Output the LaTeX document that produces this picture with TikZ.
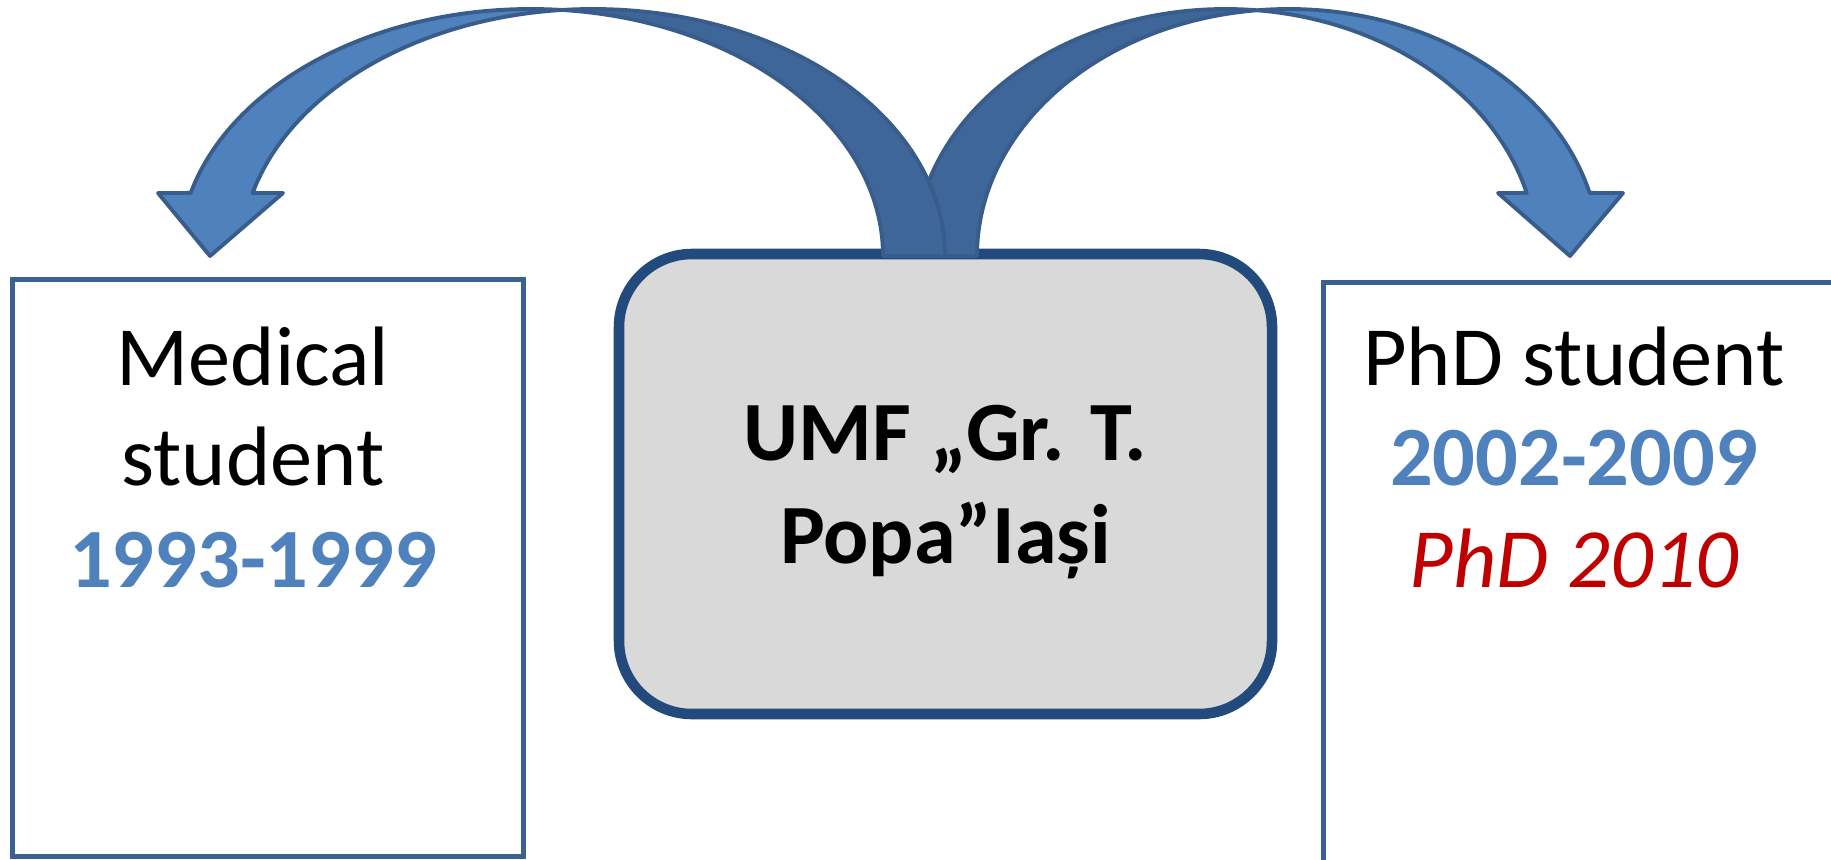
\documentclass[tikz,border=0pt]{standalone}
\usepackage{fontspec}
\setmainfont{Carlito}
\usetikzlibrary{positioning}

\definecolor{accblue}{HTML}{4F81BD}
\definecolor{arrowdark}{HTML}{3F6698}
\definecolor{arrowline}{HTML}{385D8A}
\definecolor{boxline}{HTML}{3B6191}
\definecolor{umfline}{HTML}{234A7D}
\definecolor{umffill}{HTML}{D9D9D9}
\definecolor{phdred}{HTML}{C00000}

\tikzset{
  sidebox/.style={draw=boxline, line width=1.4pt, fill=white, inner sep=0pt},
  umfbox/.style={draw=umfline, line width=3pt, fill=umffill, inner sep=0pt,
    rounded corners=0.73cm},
  txtline/.style={anchor=base, inner sep=0pt, font=\fontsize{24}{29}\selectfont},
  umfline/.style={anchor=base, inner sep=0pt, font=\fontsize{24}{30}\selectfont\bfseries},
  arrowtop/.style={fill=accblue, draw=arrowline, line width=1.1pt, line join=round},
  arrowunder/.style={fill=arrowdark, draw=arrowline, line width=1.1pt, line join=round},
}

\begin{document}
\begin{tikzpicture}
  \useasboundingbox (0,0) rectangle (18.31,8.59);
  \clip (0,0) rectangle (18.31,8.59);

  % boxes
  \node[sidebox, minimum width=5.11cm, minimum height=5.77cm] (med) at (2.68,2.91) {};
  \node[sidebox, minimum width=5.37cm, minimum height=6.07cm] (phd) at (15.92,2.73) {};
  \node[umfbox, minimum width=6.53cm, minimum height=4.6cm] (umf) at (9.455,3.75) {};

  % texts
  \node[txtline] (med1) at (2.53,4.74) {Medical};
  \node[txtline] (med2) at ([yshift=-1cm]med1.base) {student};
  \node[txtline, text=accblue, font=\fontsize{24}{29}\selectfont\bfseries]
    (med3) at ([yshift=-1.02cm]med2.base) {1993-1999};

  \node[txtline] (phd1) at (15.74,4.74) {PhD student};
  \node[txtline, text=accblue, font=\fontsize{24}{29}\selectfont\bfseries]
    (phd2) at ([yshift=-1cm]phd1.base) {2002-2009};
  \node[txtline, text=phdred, font=\fontsize{24}{29}\selectfont\itshape]
    (phd3) at ([yshift=-1.02cm]phd2.base) {PhD 2010};

  \node[umfline] (umf1) at (9.455,3.99) {UMF „Gr. T.};
  \node[umfline] (umf2) at ([yshift=-1.03cm]umf1.base) {Popa”Iași};

  % ellipse centres of the two curved arrows
  \coordinate (cA) at (5.31,6.03);
  \coordinate (cC) at (12.255,6.03);

  % right arrow
  \draw[arrowunder] (cC) ++(84.2:3.115 and 2.47)
    arc[start angle=84.2, end angle=180, x radius=3.115, y radius=2.47]
    -- ++(0.63,0)
    arc[start angle=180, end angle=95.8, x radius=3.115, y radius=2.47] -- cycle;
  \draw[arrowtop] (cC) ++(14.8:3.115 and 2.47)
    arc[start angle=14.8, end angle=84.2, x radius=3.115, y radius=2.47]
    arc[start angle=95.8, end angle=14.8, x radius=3.115, y radius=2.47]
    -- (16.23,6.66) -- (15.70,6.03) -- (14.98,6.66) -- cycle;

  % left arrow
  \draw[arrowunder] (cA) ++(84.95:3.52 and 2.47)
    arc[start angle=84.95, end angle=0, x radius=3.52, y radius=2.47]
    -- ++(0.62,0)
    arc[start angle=0, end angle=95.05, x radius=3.52, y radius=2.47] -- cycle;
  \draw[arrowtop] (cA) ++(165.2:3.52 and 2.47)
    arc[start angle=165.2, end angle=84.95, x radius=3.52, y radius=2.47]
    arc[start angle=95.05, end angle=165.2, x radius=3.52, y radius=2.47]
    -- (2.83,6.66) -- (2.10,6.03) -- (1.58,6.66) -- cycle;
\end{tikzpicture}
\end{document}
